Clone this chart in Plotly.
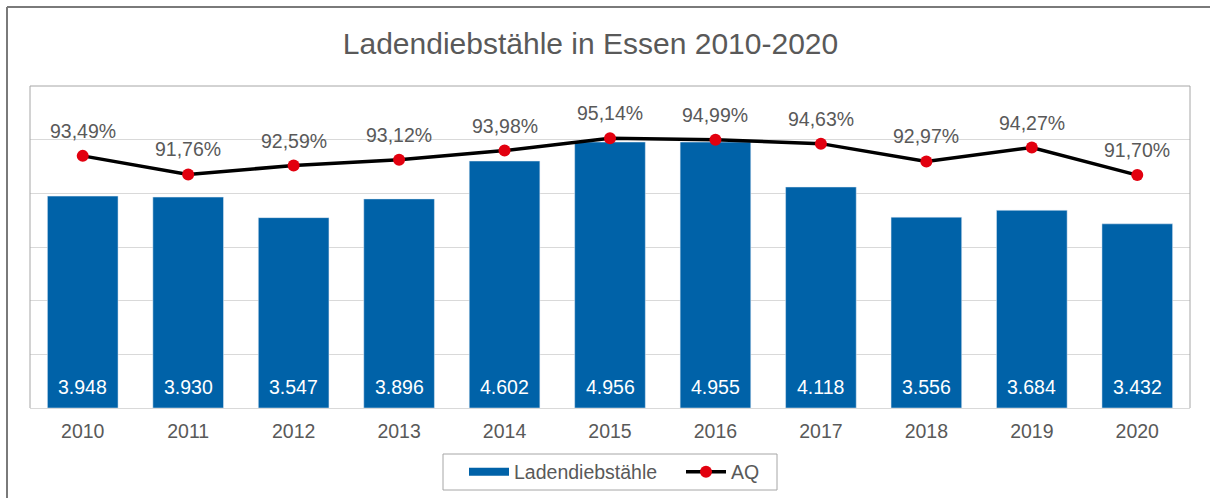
import plotly.graph_objects as go

years = ["2010", "2011", "2012", "2013", "2014", "2015", "2016", "2017", "2018", "2019", "2020"]
thefts = [3948, 3930, 3547, 3896, 4602, 4956, 4955, 4118, 3556, 3684, 3432]
aq = [0.9349, 0.9176, 0.9259, 0.9312, 0.9398, 0.9514, 0.9499, 0.9463, 0.9297, 0.9427, 0.9170]

FONT = "Arial, Liberation Sans, sans-serif"
GREY = "#595959"
BLUE = "#0062A8"
RED = "#E2000F"

W, H = 1210, 498
L, R, T, B = 30, 20, 86, 90
pw, ph = W - L - R, H - T - B

def px_x(x):
    return (x - L) / pw

def px_y(y):
    return (H - B - y) / ph

fig = go.Figure()

fig.add_trace(go.Bar(
    x=years, y=thefts, name="Ladendiebstähle", marker=dict(color=BLUE),
    showlegend=False,
))

# legend proxy for the bars (wide band symbol like the original)
fig.add_trace(go.Scatter(
    x=[years[0]], y=[None], mode="lines", name="Ladendiebstähle",
    line=dict(color=BLUE, width=8), showlegend=True, hoverinfo="skip",
))

fig.add_trace(go.Scatter(
    x=years, y=aq, name="AQ", yaxis="y2", mode="lines+markers",
    line=dict(color="black", width=3.5),
    marker=dict(color=RED, size=12),
))

# percentage labels above the markers
for i, v in enumerate(aq):
    fig.add_annotation(
        x=i, y=v, xref="x", yref="y2", text=f"{v*100:.2f}%".replace(".", ","),
        showarrow=False, yanchor="middle", yshift=25,
        font=dict(family=FONT, size=19.5, color=GREY),
    )

# value labels at the base of each bar (category index positions)
for i, v in enumerate(thefts):
    fig.add_annotation(
        x=i, y=0, xref="x", yref="y", text=f"{v:,}".replace(",", "."),
        showarrow=False, yanchor="bottom", yshift=8,
        font=dict(family=FONT, size=19.5, color="white"),
    )

shapes = [
    # outer chart border (only top/left visible in the crop)
    dict(type="line", xref="paper", yref="paper", x0=px_x(7), x1=px_x(1215), y0=px_y(7), y1=px_y(7),
         line=dict(color="#7a7a7a", width=2)),
    dict(type="line", xref="paper", yref="paper", x0=px_x(7), x1=px_x(7), y0=px_y(7), y1=px_y(505),
         line=dict(color="#7a7a7a", width=2)),
    # plot area frame (left, top, right)
    dict(type="line", xref="paper", yref="paper", x0=0, x1=0, y0=0, y1=1, line=dict(color="#a6a6a6", width=1)),
    dict(type="line", xref="paper", yref="paper", x0=0, x1=1, y0=1, y1=1, line=dict(color="#a6a6a6", width=1)),
    dict(type="line", xref="paper", yref="paper", x0=1, x1=1, y0=0, y1=1, line=dict(color="#a6a6a6", width=1)),
    # legend frame
    dict(type="rect", xref="paper", yref="paper", x0=px_x(443), x1=px_x(777), y0=px_y(454), y1=px_y(490),
         line=dict(color="#a6a6a6", width=1)),
]

fig.update_layout(
    width=W, height=H,
    margin=dict(l=L, r=R, t=T, b=B, autoexpand=False),
    paper_bgcolor="white", plot_bgcolor="white",
    separators=",.",
    font=dict(family=FONT, size=19.5, color=GREY),
    title=dict(text="Ladendiebstähle in Essen 2010-2020", x=590.5 / W, xanchor="center",
               y=1 - 43 / H, yanchor="middle", font=dict(family=FONT, size=30, color=GREY)),
    bargap=0.33,
    xaxis=dict(type="category", categoryorder="array", categoryarray=years, range=[-0.5, len(years) - 0.5],
               showline=True, linecolor="#d9d9d9", linewidth=1, ticks="", showgrid=False,
               ticklabelstandoff=6,
               tickfont=dict(family=FONT, size=19.5, color=GREY)),
    yaxis=dict(range=[0, 6000], dtick=1000, showgrid=True, gridcolor="#d9d9d9", gridwidth=1,
               showticklabels=False, zeroline=False, showline=False, ticks=""),
    yaxis2=dict(range=[0.70, 1.00], overlaying="y", visible=False, showgrid=False),
    legend=dict(orientation="h", x=px_x(464), xanchor="left", y=px_y(472), yanchor="middle",
                borderwidth=0, bgcolor="rgba(0,0,0,0)", itemwidth=40, entrywidth=162,
                font=dict(family=FONT, size=19.5, color=GREY)),
    shapes=shapes,
    showlegend=True,
)

fig.write_html("out.html", config={"displayModeBar": False},
               post_script="document.body.style.margin='0';")
